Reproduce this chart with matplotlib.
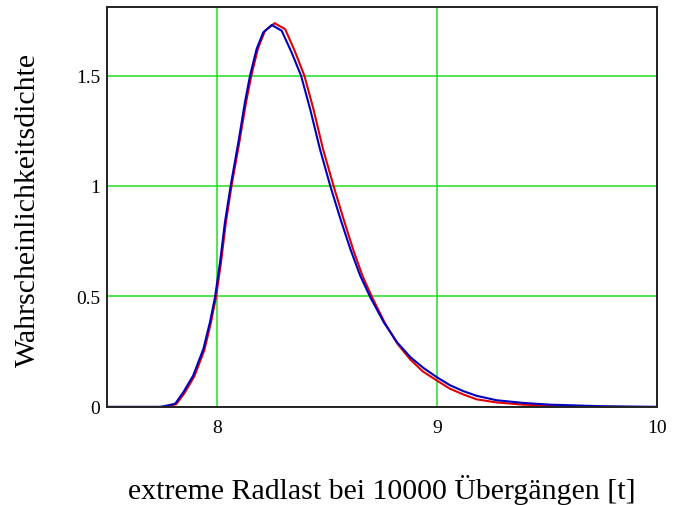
import numpy as np
import matplotlib.pyplot as plt

# Werte
x_blau = [7.50, 7.74, 7.76, 7.81, 7.847, 7.892, 7.938, 7.968, 7.991, 8.014, 8.036, 8.062,
          8.097, 8.127, 8.15, 8.18, 8.21, 8.249, 8.294, 8.339, 8.382, 8.423, 8.468,
          8.515, 8.561, 8.606, 8.651, 8.697, 8.758, 8.818, 8.879, 8.94, 8.998, 9.059,
          9.12, 9.18, 9.27, 9.39, 9.51, 9.74, 10.0]
y_blau = [0.0, 0.0, 0.003, 0.014, 0.066, 0.142, 0.262, 0.383, 0.496, 0.655, 0.835, 1.0,
          1.197, 1.379, 1.499, 1.62, 1.695, 1.729, 1.703, 1.605, 1.5, 1.35, 1.167,
          1.0, 0.851, 0.715, 0.594, 0.496, 0.383, 0.293, 0.225, 0.175, 0.135, 0.098,
          0.071, 0.05, 0.03, 0.018, 0.01, 0.003, 0.0]

x_rot = [7.76, 7.815, 7.852, 7.897, 7.943, 7.972, 7.995, 8.018, 8.04, 8.066,
         8.101, 8.132, 8.156, 8.186, 8.218, 8.262, 8.31, 8.354, 8.397, 8.438, 8.482,
         8.53, 8.575, 8.618, 8.661, 8.705, 8.763, 8.82, 8.878, 8.936, 8.998, 9.059,
         9.12, 9.18, 9.27, 9.39, 9.51, 9.74]
y_rot = [0.0, 0.012, 0.062, 0.138, 0.258, 0.38, 0.494, 0.652, 0.832, 1.0,
         1.195, 1.378, 1.499, 1.622, 1.702, 1.737, 1.71, 1.61, 1.5, 1.35, 1.167,
         1.0, 0.851, 0.715, 0.594, 0.496, 0.38, 0.286, 0.215, 0.16, 0.12, 0.082,
         0.056, 0.034, 0.02, 0.01, 0.005, 0.0]

fig = plt.figure(figsize=(6.75, 5.06), dpi=100)
ax = fig.add_axes([0.1585, 0.194, 0.8148, 0.790])

ax.plot(x_rot, y_rot, color='#e00000', lw=1.5)
ax.plot(x_blau, y_blau, color='#0000c0', lw=1.5)

ax.set_xlim(7.5, 10)
ax.set_ylim(0, 1.81)
ax.set_xticks([8, 9, 10])
ax.set_xticklabels(['8', '9', '10'])
ax.set_yticks([0, 0.5, 1, 1.5])
ax.set_yticklabels(['0', '0.5', '1', '1.5'])
ax.grid(True, color='#22dd22', lw=1.1)
ax.set_axisbelow(True)
ax.tick_params(length=0, labelsize=14)
ax.tick_params(axis='x', pad=9)
ax.tick_params(axis='y', pad=5)
for lab in ax.get_xticklabels() + ax.get_yticklabels():
    lab.set_family('Liberation Serif')
for s in ax.spines.values():
    s.set_color('#222222')
    s.set_linewidth(1.4)

ax.set_xlabel('extreme Radlast bei 10000 Übergängen [t]', family='Liberation Serif',
              fontsize=21.5, va='center')
ax.xaxis.set_label_coords(0.5, -0.205)
ax.set_ylabel('Wahrscheinlichkeitsdichte', family='Liberation Serif',
              fontsize=21.5, va='center')
ax.yaxis.set_label_coords(-0.1436, 0.495)

plt.savefig('out.png')
